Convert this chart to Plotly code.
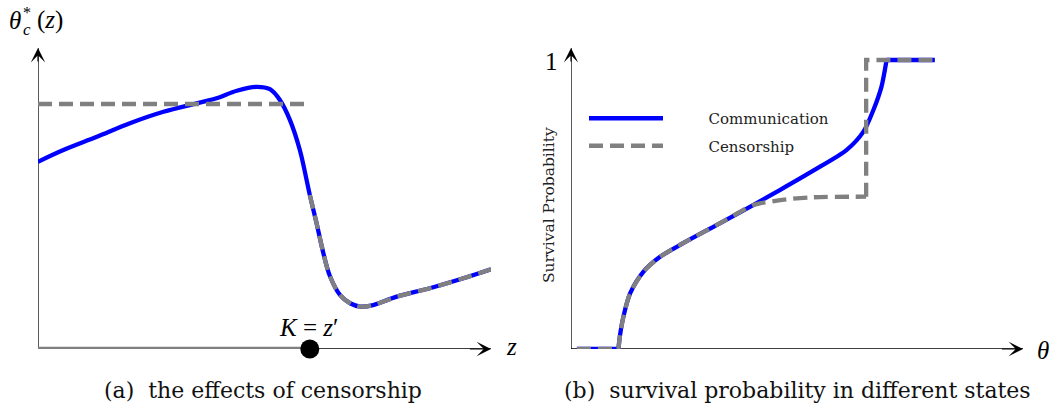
import plotly.graph_objects as go

# ---------------- data ----------------
# Panel (a): threshold theta*_c(z) under communication
z_vals = [0.0, 0.56, 1.30, 2.03, 2.77, 3.50, 3.94, 4.39, 4.83, 5.12, 5.34, 5.56, 5.78, 5.93, 6.00,
          6.15, 6.30, 6.45, 6.67, 6.89, 7.11, 7.40, 7.92, 8.65, 9.39, 10.0]
theta_comm = [6.22, 6.61, 7.05, 7.50, 7.88, 8.16, 8.33, 8.58, 8.71, 8.63, 8.27, 7.61, 6.61, 5.61, 5.12,
              4.18, 3.18, 2.40, 1.79, 1.52, 1.41, 1.46, 1.74, 2.02, 2.35, 2.65]
K = 6.0                  # K = z'
theta_cens_level = 8.14  # flat censorship threshold for z < K

# Panel (b): survival probability
th_flat = [0.013, 0.105]          # zero survival region (both states)
p_flat = [0.0, 0.0]
th_common = [0.105, 0.108, 0.116, 0.131, 0.160, 0.197, 0.248, 0.322, 0.403]
p_common = [0.0, 0.043, 0.112, 0.193, 0.267, 0.319, 0.366, 0.429, 0.498]
th_comm = [0.462, 0.536, 0.610, 0.647, 0.669, 0.687, 0.697, 0.698]
p_comm = [0.550, 0.617, 0.689, 0.752, 0.827, 0.908, 0.989, 1.0]
th_cens = [0.418, 0.477, 0.535, 0.653]
p_cens = [0.504, 0.518, 0.525, 0.527]
theta_jump = 0.653       # censorship jumps to 1
theta_end = 0.805        # end of plotted range
p_top = 1.0

legend_labels = ["Communication", "Censorship"]

# ---------------- styling ----------------
W, H = 1054, 408
BLUE = "#0000ff"
GRAY = "#808080"
DASH = "14px,7px"
LW = 4.3
MATH = "Liberation Serif, Times New Roman, serif"
TEXT = "DejaVu Serif, serif"
PAD = "\u2003\u2003\u2002\u2009"   # gap between legend sample and label


def px(x):
    return x / W


def py(y):
    return 1 - y / H


fig = go.Figure()


def line_trace(x, y, color, axes, dash=None, spline=False, smoothing=1.0, **kw):
    ln = dict(color=color, width=LW)
    if dash:
        ln["dash"] = dash
    if spline:
        ln["shape"] = "spline"
        ln["smoothing"] = smoothing
    return go.Scatter(x=x, y=y, mode="lines", xaxis=axes[0], yaxis=axes[1], line=ln,
                      cliponaxis=False, hoverinfo="skip", showlegend=kw.pop("showlegend", False), **kw)


A = ("x", "y")
B = ("x2", "y2")

# ---- panel (a) ----
fig.add_trace(line_trace(z_vals, theta_comm, BLUE, A, spline=True, smoothing=1.0))
z_after = [z for z in z_vals if z >= K]
t_after = [t for z, t in zip(z_vals, theta_comm) if z >= K]
fig.add_trace(line_trace(z_after, t_after, GRAY, A, dash=DASH, spline=True, smoothing=1.0))
fig.add_trace(line_trace([0, K], [theta_cens_level, theta_cens_level], GRAY, A, dash=DASH))
fig.add_trace(go.Scatter(x=[0, K], y=[0, 0], mode="lines", xaxis="x", yaxis="y", cliponaxis=False,
                         line=dict(color=GRAY, width=4.5), showlegend=False, hoverinfo="skip"))
fig.add_trace(go.Scatter(x=[K], y=[0], mode="markers", xaxis="x", yaxis="y", cliponaxis=False,
                         marker=dict(color="black", size=19), showlegend=False, hoverinfo="skip"))

# ---- panel (b) ----
# communication (solid blue)
fig.add_trace(line_trace(th_flat, p_flat, BLUE, B))
fig.add_trace(line_trace(th_common + th_comm, p_common + p_comm, BLUE, B, spline=True, smoothing=0.8,
                         name=PAD + legend_labels[0], showlegend=True, legendgroup="comm"))
fig.add_trace(line_trace([th_comm[-1], theta_end], [p_top, p_top], BLUE, B))
# censorship (dashed gray)
fig.add_trace(line_trace(th_flat, p_flat, GRAY, B, dash=DASH))
fig.add_trace(line_trace(th_common + th_cens, p_common + p_cens, GRAY, B, dash=DASH, spline=True,
                         smoothing=0.8, name=PAD + legend_labels[1], showlegend=True, legendgroup="cens"))
fig.add_trace(line_trace([theta_jump, theta_jump, theta_end], [p_cens[-1], p_top, p_top], GRAY, B,
                         dash=DASH))

ydom = [py(349), py(48)]
Y2MAX = 301 / 289
hidden = dict(visible=False, fixedrange=True)
fig.update_layout(
    width=W, height=H,
    margin=dict(l=0, r=0, t=0, b=0),
    paper_bgcolor="white", plot_bgcolor="white",
    xaxis=dict(domain=[px(38), px(491)], range=[0, 10], **hidden),
    yaxis=dict(domain=ydom, range=[0, 10], **hidden),
    xaxis2=dict(domain=[px(571), px(1023)], range=[0, 1], anchor="y2", **hidden),
    yaxis2=dict(domain=ydom, range=[0, Y2MAX], anchor="x2", **hidden),
    legend=dict(x=px(584), y=py(102), xanchor="left", yanchor="top",
                bgcolor="rgba(0,0,0,0)", borderwidth=0, itemwidth=74,
                tracegroupgap=5,
                font=dict(family=TEXT, size=15, color="#222")),
    showlegend=True,
)

# axis lines (below data) and arrow heads
axis_ends = [("x", "y", 10, 0), ("x", "y", 0, 10), ("x2", "y2", 1, 0), ("x2", "y2", 0, Y2MAX)]
shapes = []
for xr, yr, x1, y1 in axis_ends:
    shapes.append(dict(type="line", xref=xr, yref=yr, x0=0, y0=0, x1=x1, y1=y1, layer="below",
                       line=dict(color="black", width=1.3)))

ann = []
arrow = dict(text="", showarrow=True, arrowhead=3, arrowsize=2.0, arrowwidth=1.2,
             arrowcolor="black", standoff=0, startstandoff=0)
for xr, yr, x1, y1 in axis_ends:
    ann.append(dict(x=x1, y=y1, ax=x1 * 0.95, ay=y1 * 0.95, xref=xr, yref=yr, axref=xr, ayref=yr, **arrow))


def label(text, x, y, size, xanchor="center", yanchor="middle", family=MATH, angle=0, color="black"):
    return dict(text=text, x=px(x), y=py(y), xref="paper", yref="paper", showarrow=False,
                xanchor=xanchor, yanchor=yanchor, textangle=angle,
                font=dict(family=family, size=size, color=color))


# panel (a) labels
ann.append(label("<i>θ</i>", 15, 20, 25))
ann.append(label("*", 27, 12, 16))
ann.append(label("<i>c</i>", 27, 30, 17))
ann.append(label("(<i>z</i>)", 50, 20, 25))
ann.append(label("<i>z</i>", 511, 346, 25))
ann.append(label("<i>K</i> = <i>z</i>′", 309, 327, 25))
ann.append(label("(a)  the effects of censorship", 263, 390, 22, family=TEXT, color="#111"))

# panel (b) labels
ann.append(label("1", 551, 61, 25))
ann.append(label("<i>θ</i>", 1043, 350, 25))
ann.append(label("Survival Probability", 549, 205, 15.5, family=TEXT, angle=-90, color="#222"))
ann.append(label("(b)  survival probability in different states", 797, 390, 22, family=TEXT, color="#111"))

fig.update_layout(annotations=ann, shapes=shapes)

fig.write_html("out.html")
